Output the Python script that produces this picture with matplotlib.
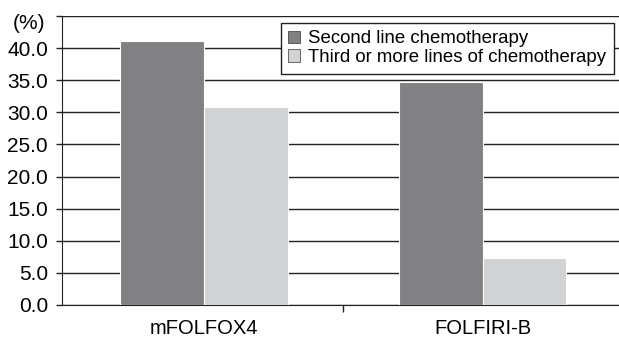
import numpy as np
import matplotlib.pyplot as plt

plt.rcParams['font.family'] = ['Liberation Sans', 'DejaVu Sans']

regimens = ["mFOLFOX4", "FOLFIRI-B"]
second_line = [41.1, 34.8]
third_line = [30.8, 7.3]
series_names = ["Second line chemotherapy", "Third or more lines of chemotherapy"]

fig = plt.figure(figsize=(6.19, 3.39), dpi=100)
ax = fig.add_axes([62 / 619, 1 - 305 / 339, 557 / 619, 289 / 339])

x = np.arange(len(regimens))
w = 0.3
ax.bar(x - w / 2, second_line, w, color="#818184", edgecolor="white", linewidth=0.8,
       label=series_names[0], zorder=3)
ax.bar(x + w / 2, third_line, w, color="#d1d2d4", edgecolor="white", linewidth=0.8,
       label=series_names[1], zorder=3)

ax.set_xlim(-0.51, 1.49)
ax.set_ylim(0, 45)
ticks = np.arange(0, 50, 5)
ax.set_yticks(ticks)
ax.set_yticklabels(["%.1f" % t for t in ticks[:-1]] + [""], fontsize=15)
for lbl in ax.get_yticklabels():
    lbl.set_va("center_baseline")
ax.yaxis.grid(True, color="#222222", linewidth=1.0, zorder=0)
ax.tick_params(axis="y", length=4, width=1.0, pad=6, color="#222222")
ax.text(-0.03, 0.975, "(%)", transform=ax.transAxes, ha="right", va="center", fontsize=15)

# category names under the groups, tick only between them
ax.set_xticks([0.5])
ax.set_xticklabels([""])
ax.tick_params(axis="x", length=5, width=1.0, color="#222222")
for i, r in enumerate(regimens):
    ax.annotate(r, xy=(i, 0), xycoords=("data", "axes fraction"),
                xytext=(0, -21), textcoords="offset points",
                ha="center", va="baseline", fontsize=14.5)

for s in ["top", "right"]:
    ax.spines[s].set_visible(False)
ax.spines["left"].set_color("#222222")
ax.spines["bottom"].set_color("#222222")

leg = ax.legend(loc="upper right", bbox_to_anchor=(0.991, 0.976), fontsize=13.4,
                frameon=True, fancybox=False, edgecolor="#222222", framealpha=1,
                handlelength=0.65, handleheight=0.65, handletextpad=0.45,
                borderpad=0.4, labelspacing=0.1, borderaxespad=0)
leg.get_frame().set_linewidth(1.0)
for h in leg.legend_handles:
    h.set_edgecolor("#333333")
    h.set_linewidth(0.5)

fig.savefig("out.png", dpi=100)
